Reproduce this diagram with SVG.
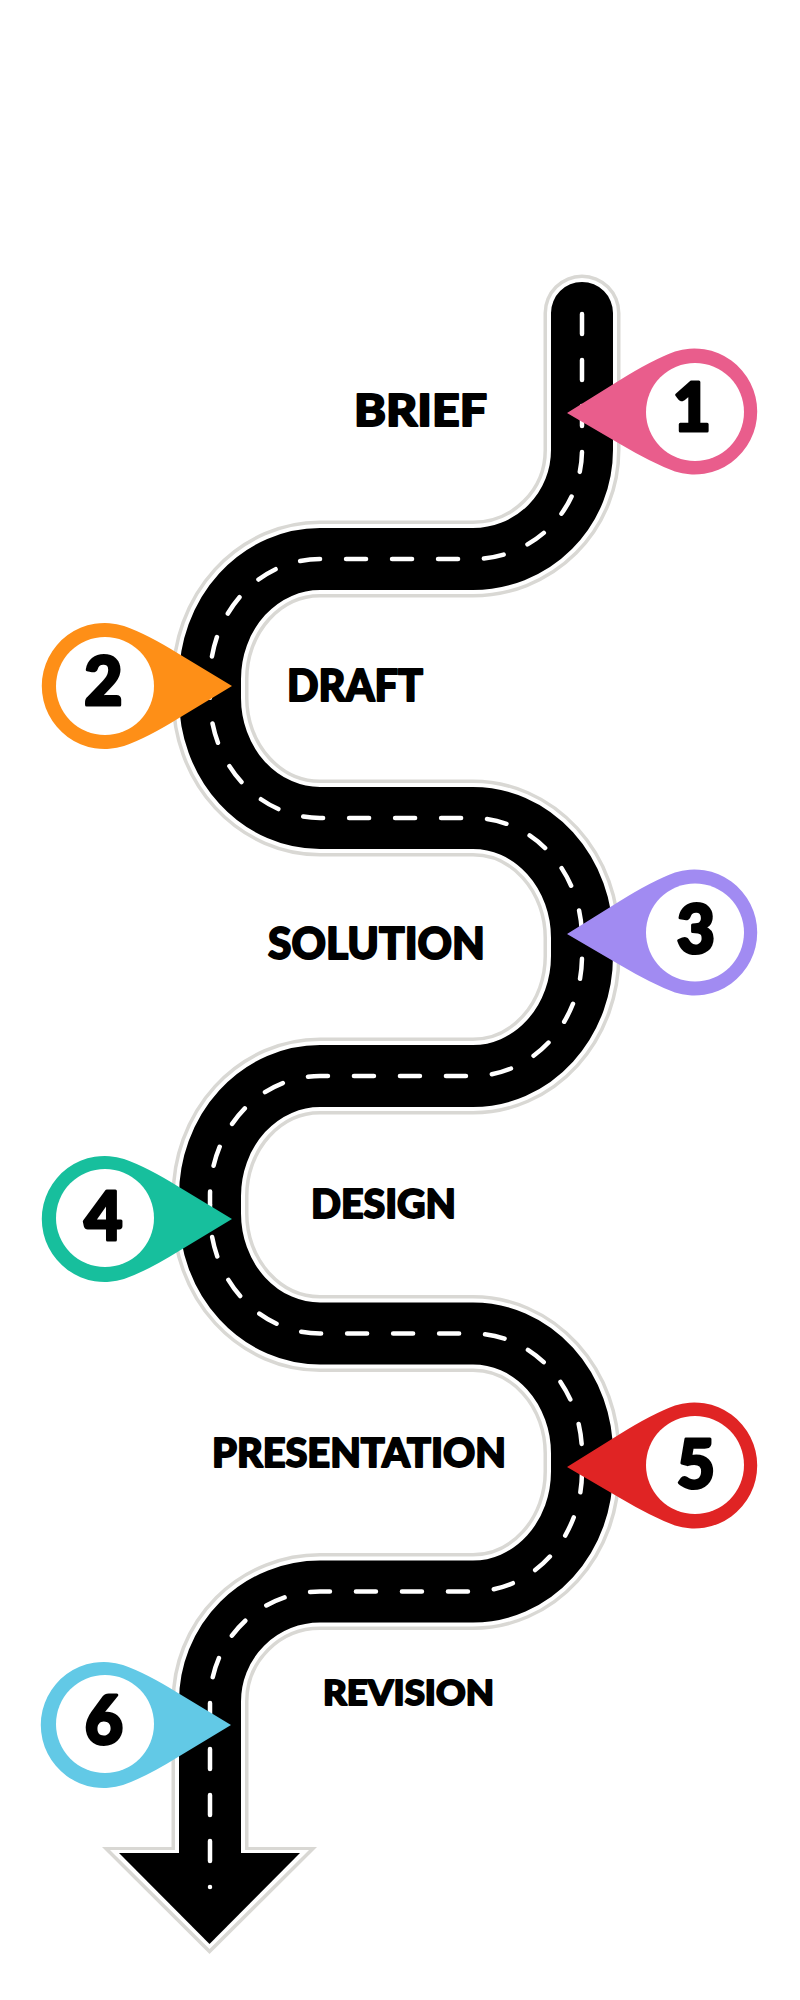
<svg xmlns="http://www.w3.org/2000/svg" width="800" height="2000" viewBox="0 0 800 2000">
<defs>
<path id="road" d="M582 313V450A109 109 0 0 1 473 559H320A110 120 0 0 0 210 679V698A110 120 0 0 0 320 818H473A109 120 0 0 1 582 938V956A109 120 0 0 1 473 1076H320A110 120 0 0 0 210 1196V1213.500A110 120 0 0 0 320 1333.500H473A109 120 0 0 1 582 1453.500V1471.500A109 120 0 0 1 473 1591.500H320A110 110 0 0 0 210 1701.500V1855"/>
<path id="pinR" d="M0 0L53 -33Q85 -53 108 -61.500A63 63 0 1 1 108 58.500Q85 50 53 31Z"/>
<path id="pinL" d="M0 0L53 -32Q85 -52 108 -60A63 63 0 1 1 108 60Q85 52 53 32Z"/>
</defs>
<style>
.halo{fill:none;stroke:#d9d8d4;stroke-width:77;stroke-linecap:round}
.gap{fill:none;stroke:#fff;stroke-width:70;stroke-linecap:round}
.tar{fill:none;stroke:#000;stroke-width:62;stroke-linecap:round}
.dash{fill:none;stroke:#fff;stroke-width:4.500;stroke-linecap:round;stroke-dasharray:20 26}
.lbl{font-family:"Lato","Liberation Sans",sans-serif;font-weight:900;fill:#000;stroke:#000;stroke-width:1.8;stroke-linejoin:round}
.num{font-family:"Lato","Liberation Sans",sans-serif;font-weight:900;font-size:66px;fill:#000;stroke:#000;stroke-width:3;stroke-linejoin:round;text-anchor:middle}
.hole{fill:#fff}
</style>
<rect width="800" height="2000" fill="#fff"/>
<g id="connectors">
<use href="#road" class="halo"/>
<polygon points="102,1847 317,1847 209.5,1954" fill="#d9d8d4"/>
<use href="#road" class="gap"/>
<polygon points="110,1850 309,1850 209.5,1949" fill="#fff"/>
<use href="#road" class="tar"/>
<polygon points="119,1853 300,1853 209.5,1944" fill="#000"/>
<path class="dash" d="M582 314V450A109 109 0 0 1 473 559H320A110 120 0 0 0 210 679V688.500"/>
<path class="dash" stroke-dashoffset="10.800" d="M210 688.500V698A110 120 0 0 0 320 818H473A109 120 0 0 1 582 938V947"/>
<path class="dash" stroke-dashoffset="34.100" d="M582 947V956A109 120 0 0 1 473 1076H320A110 120 0 0 0 210 1196V1204.750"/>
<path class="dash" stroke-dashoffset="13.550" d="M210 1204.750V1213.500A110 120 0 0 0 320 1333.500H473A109 120 0 0 1 582 1453.500V1462.500"/>
<path class="dash" stroke-dashoffset="36.100" d="M582 1462.500V1471.500A109 120 0 0 1 473 1591.500H320A110 110 0 0 0 210 1701.500V1887"/>
</g>
<g id="node1"><use href="#pinR" transform="translate(567 413)" fill="#e95d8c"/><circle class="hole" cx="695" cy="412" r="49"/><text class="num" x="692" y="431">1</text></g>
<g id="node2"><use href="#pinL" transform="translate(232 686) scale(-1 1)" fill="#fe8f17"/><circle class="hole" cx="105" cy="686" r="49"/><text class="num" x="103.500" y="705">2</text></g>
<g id="node3"><use href="#pinR" transform="translate(567 934)" fill="#a18bf2"/><circle class="hole" cx="695" cy="932.500" r="49"/><text class="num" x="696" y="953">3</text></g>
<g id="node4"><use href="#pinL" transform="translate(232 1219) scale(-1 1)" fill="#17bf9d"/><circle class="hole" cx="105" cy="1218" r="49"/><text class="num" x="103.500" y="1240">4</text></g>
<g id="node5"><use href="#pinR" transform="translate(567 1467)" fill="#e02424"/><circle class="hole" cx="695" cy="1465" r="49"/><text class="num" x="696" y="1488">5</text></g>
<g id="node6"><use href="#pinL" transform="translate(231 1725) scale(-1 1)" fill="#62c9e6"/><circle class="hole" cx="105" cy="1724" r="49"/><text class="num" x="104" y="1744">6</text></g>
<g id="labels">
<text class="lbl" x="354" y="426" font-size="43" textLength="133" lengthAdjust="spacingAndGlyphs">BRIEF</text>
<text class="lbl" x="287" y="701" font-size="43" textLength="136" lengthAdjust="spacingAndGlyphs">DRAFT</text>
<text class="lbl" x="268" y="959" font-size="43" textLength="217" lengthAdjust="spacingAndGlyphs">SOLUTION</text>
<text class="lbl" x="311" y="1218" font-size="40" textLength="145" lengthAdjust="spacingAndGlyphs">DESIGN</text>
<text class="lbl" x="212" y="1467" font-size="39" textLength="294" lengthAdjust="spacingAndGlyphs">PRESENTATION</text>
<text class="lbl" x="323" y="1705" font-size="35" textLength="171" lengthAdjust="spacingAndGlyphs">REVISION</text>
</g>
</svg>
